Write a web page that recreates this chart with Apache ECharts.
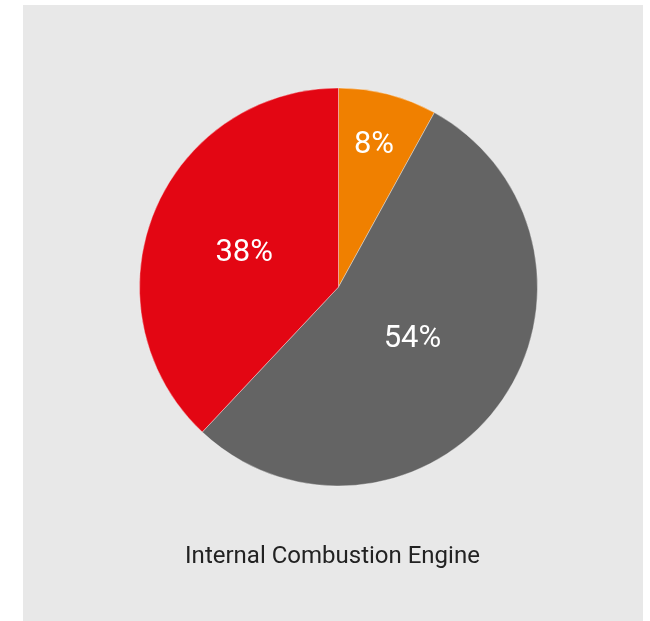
<!DOCTYPE html>
<html>
<head>
<meta charset="utf-8">
<script src="https://cdn.jsdelivr.net/npm/echarts@6/dist/echarts.min.js"></script>
<style>
html,body{margin:0;padding:0;background:#fff;}
#chart{width:650px;height:621px;}
</style>
</head>
<body>
<div id="chart"></div>
<script>
var categories = ['Segment A', 'Segment B', 'Segment C'];
var values = [8, 54, 38];
var colors = ['#F08000', '#646464', '#E30613'];
var labelOffsets = [[10, -42], [-9, -8], [1, 4]];
var title = 'Internal Combustion Engine';

var chart = echarts.init(document.getElementById('chart'));
chart.setOption({
  backgroundColor: '#ffffff',
  animation: false,
  graphic: [{
    type: 'rect',
    z: -10,
    shape: {x: 23, y: 5, width: 620, height: 616},
    style: {fill: '#E8E8E8'}
  }, {
    type: 'text',
    x: 332.5,
    y: 557,
    style: {
      text: title,
      align: 'center',
      verticalAlign: 'middle',
      fontFamily: 'Roboto',
      fontSize: 24,
      fontWeight: 'normal',
      fill: '#222222'
    }
  }],
  series: [{
    type: 'pie',
    center: [338.5, 287],
    radius: [0, 199],
    startAngle: 90,
    clockwise: true,
    silent: true,
    itemStyle: {borderColor: 'rgba(255,255,255,0.6)', borderWidth: 0.6},
    label: {
      position: 'inside',
      color: '#ffffff',
      fontFamily: 'Roboto',
      fontSize: 31,
      fontWeight: 'normal',
      formatter: function (p) { return p.value + '%'; }
    },
    labelLine: {show: false},
    data: categories.map(function (c, i) {
      return {name: c, value: values[i], itemStyle: {color: colors[i]}, label: {offset: labelOffsets[i]}};
    })
  }]
});
</script>
</body>
</html>
